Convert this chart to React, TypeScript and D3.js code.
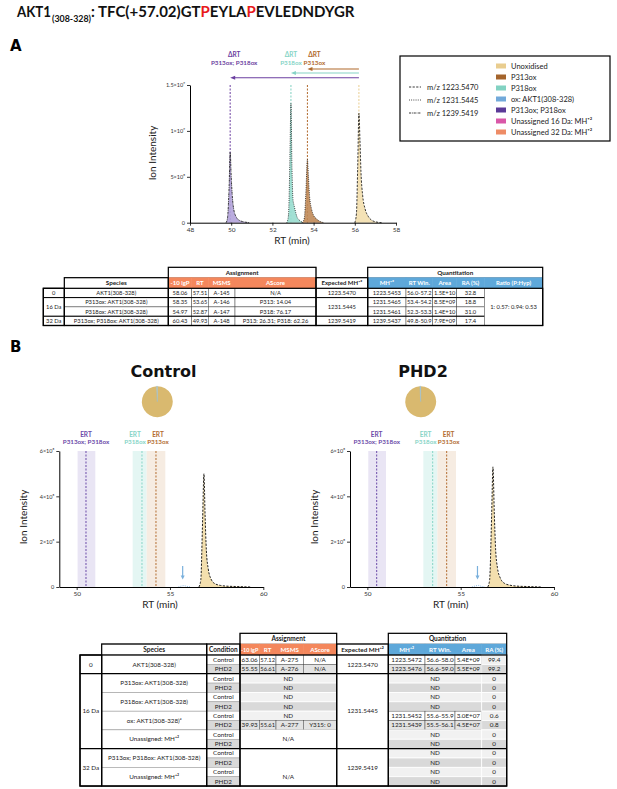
import { useEffect, useRef } from "react";
import * as d3 from "d3";

const SANS = "Lato, 'Open Sans', 'DejaVu Sans', sans-serif";
const HEAD = "'DejaVu Sans', Verdana, sans-serif";

// ---------- Panel A: legend ----------
const speciesNames = [
  "Unoxidised",
  "P313ox",
  "P318ox",
  "ox: AKT1(308-328)",
  "P313ox; P318ox",
  "Unassigned 16 Da: MH⁺²",
  "Unassigned 32 Da: MH⁺²",
];
const speciesColors = ["#e9cd8f", "#a4642c", "#82d2c2", "#72a9da", "#5b3a98", "#d957a8", "#ee8c66"];
const mzLabels = ["m/z 1223.5470", "m/z 1231.5445", "m/z 1239.5419"];
const mzDash = ["2.2,1.4", "0.9,1.3", "2.2,0.8,0.8,0.8"];

// ---------- Panel A: extracted ion chromatograms [RT (min), intensity x1e9] ----------
const peakUnoxA: [number, number][] = [
  [56.0, 0], [56.08, 0.1], [56.14, 0.6], [56.2, 1.19], [56.25, 0.9], [56.3, 0.55],
  [56.38, 0.3], [56.5, 0.15], [56.65, 0.07], [56.8, 0.03], [57.0, 0.01], [57.3, 0],
];
const peakP313A: [number, number][] = [
  [53.45, 0], [53.55, 0.05], [53.62, 0.3], [53.7, 0.69], [53.75, 0.5], [53.8, 0.3],
  [53.9, 0.15], [54.0, 0.08], [54.15, 0.04], [54.3, 0.015], [54.5, 0],
];
const peakP318A: [number, number][] = [
  [52.7, 0], [52.78, 0.08], [52.85, 0.7], [52.9, 1.3], [52.95, 0.6], [53.0, 0.25],
  [53.05, 0.19], [53.1, 0.14], [53.2, 0.06], [53.35, 0.02], [53.5, 0],
];
const peakDiA: [number, number][] = [
  [49.75, 0], [49.82, 0.05], [49.9, 0.4], [49.95, 0.77], [50.0, 0.5], [50.05, 0.3],
  [50.12, 0.15], [50.25, 0.06], [50.4, 0.025], [50.6, 0.01], [50.9, 0],
];

const xTicksA = [48, 50, 52, 54, 56, 58];
const yTicksA = [0, 0.5, 1, 1.5];
const yTickLabelsA = ["0", "5×10⁸", "1×10⁹", "1.5×10⁹"];

// ΔRT arrows, measured from the unoxidised apex
const deltaFrom = 56.2;
const deltaRT = [53.7, 52.9, 49.95];
const deltaNames = ["P313ox", "P318ox", "P313ox; P318ox"];
const deltaColors = ["#b0692b", "#86d4c6", "#6b3fa0"];

// ---------- Table A ----------
const tableAGroups = ["0", "16 Da", "32 Da"];
const tableAGroupRows = [1, 2, 1];
const tableASpecies = ["AKT1(308-328)", "P313ox: AKT1(308-328)", "P318ox: AKT1(308-328)", "P313ox; P318ox: AKT1(308-328)"];
const tableALgP = ["58.06", "58.35", "54.97", "60.43"];
const tableART = ["57.51", "53.65", "52.87", "49.93"];
const tableAMsms = ["A-145", "A-146", "A-147", "A-148"];
const tableAAscore = ["N/A", "P313: 14.04", "P318: 76.17", "P313: 26.31; P318: 62.26"];
const tableAExpected = ["1223.5470", "1231.5445", "1239.5419"];
const tableAMh = ["1223.5453", "1231.5465", "1231.5461", "1239.5437"];
const tableARtWin = ["56.0-57.2", "53.4-54.2", "52.3-53.3", "49.8-50.9"];
const tableAArea = ["1.5E+10", "8.5E+09", "1.4E+10", "7.9E+09"];
const tableARa = ["32.8", "18.8", "31.0", "17.4"];
const tableARatio = "1: 0.57: 0.94: 0.53";
const assignHeaders = ["-10 lgP", "RT", "MSMS", "AScore"];
const quantHeadersA = ["MH⁺²", "RT Win.", "Area", "RA (%)", "Ratio (P:Hyp)"];

// ---------- Panel B ----------
const conditions = ["Control", "PHD2"];
const pieUnox = [99.4, 99.2];
const pieOx = [0.6, 0.8];
const xTicksB = [50, 55, 60];
const yTicksB = [0, 2, 4, 6];
const yTickLabelsB = ["0", "2×10⁸", "4×10⁸", "6×10⁸"];
const ertNames = ["P313ox; P318ox", "P318ox", "P313ox"];
const ertCenter = [50.5, 53.5, 54.25];
const ertLow = [50.05, 53.0, 53.75];
const ertHigh = [51.0, 53.75, 54.75];
const ertColors = ["#6b4aa8", "#86d4c6", "#b26c30"];
const ertFills = ["#e9e5f4", "#e4f6f3", "#f6ece2"];
// [RT (min), intensity x1e8]
const peakUnoxControl: [number, number][] = [
  [56.55, 0], [56.65, 0.3], [56.75, 3.0], [56.82, 5.0], [56.88, 3.2], [56.95, 1.6], [57.05, 0.8],
  [57.2, 0.35], [57.4, 0.15], [57.7, 0.07], [58.0, 0.04], [58.6, 0.02], [59.3, 0],
];
const peakUnoxPHD2: [number, number][] = [
  [56.45, 0], [56.55, 0.3], [56.66, 3.2], [56.73, 5.3], [56.8, 3.3], [56.87, 1.7], [56.97, 0.85],
  [57.12, 0.4], [57.35, 0.16], [57.7, 0.07], [58.0, 0.04], [58.6, 0.02], [59.3, 0],
];
const peakOxControl: [number, number][] = [[55.45, 0], [55.6, 0.04], [55.75, 0.06], [55.9, 0.03], [56.1, 0]];
const peakOxPHD2: [number, number][] = [[55.6, 0], [55.8, 0.05], [55.95, 0.07], [56.1, 0.03], [56.3, 0]];
const arrowRT = [55.68, 55.9];

// ---------- Table B ----------
const tableBGroups = ["0", "16 Da", "32 Da"];
const tableBGroupRows = [2, 8, 4];
const tableBSpecies = [
  "AKT1(308-328)", "P313ox: AKT1(308-328)", "P318ox: AKT1(308-328)", "ox: AKT1(308-328)ᵃ",
  "Unassigned: MH⁺²", "P313ox; P318ox: AKT1(308-328)", "Unassigned: MH⁺²",
];
// merged assignment text per species (null = one row per condition)
const tableBAssignMerged: (string | null)[] = [null, null, null, null, "N/A", "", "N/A"];
const tableBAssign: (string[] | string)[] = [
  ["63.06", "57.12", "A-275", "N/A"], ["55.55", "56.61", "A-276", "N/A"],
  "ND", "ND", "ND", "ND", "ND", ["39.93", "55.61", "A-277", "Y315: 0"],
];
const tableBExpected = ["1223.5470", "1231.5445", "1239.5419"];
const tableBQuant: (string[] | string)[] = [
  ["1223.5472", "56.6-58.0", "5.4E+09"], ["1223.5476", "56.6-59.0", "5.5E+09"],
  "ND", "ND", "ND", "ND",
  ["1231.5452", "55.6-55.9", "3.0E+07"], ["1231.5439", "55.5-56.1", "4.5E+07"],
  "ND", "ND", "ND", "ND", "ND", "ND",
];
const tableBRa = ["99.4", "99.2", "0", "0", "0", "0", "0.6", "0.8", "0", "0", "0", "0", "0", "0"];
const quantHeadersB = ["MH⁺²", "RT Win.", "Area", "RA (%)"];

// peptide title pieces, red = modified prolines
const titleParts = [": TFC(+57.02)GT", "P", "EYLA", "P", "EVLEDNDYGR"];
const titleColors = ["#111", "#e8191b", "#111", "#e8191b", "#111"];

const ORANGE = "#f4875c";
const BLUE = "#5ea8da";
const LIGHT = "#f1f1f1";
const DARK = "#d9d9d9";

type G = d3.Selection<SVGGElement, unknown, null, undefined>;

function fitText(t: d3.Selection<SVGTextElement, unknown, null, undefined>, maxW: number) {
  const node = t.node();
  if (!node) return;
  const w = node.getComputedTextLength();
  if (w > maxW) t.attr("textLength", maxW).attr("lengthAdjust", "spacingAndGlyphs");
}

function cell(
  g: G, x0: number, x1: number, y0: number, y1: number, text: string,
  o: { fill?: string; color?: string; bold?: boolean; size?: number; stroke?: string; sw?: number; ty?: number } = {}
) {
  g.append("rect")
    .attr("x", x0).attr("y", y0).attr("width", x1 - x0).attr("height", y1 - y0)
    .attr("fill", o.fill ?? "#fff")
    .attr("stroke", o.stroke ?? "#444")
    .attr("stroke-width", o.sw ?? 0.5);
  if (!text) return;
  const t = g.append("text")
    .attr("x", (x0 + x1) / 2)
    .attr("y", o.ty ?? (y0 + y1) / 2)
    .attr("dy", "0.35em")
    .attr("text-anchor", "middle")
    .attr("font-family", SANS)
    .attr("font-size", o.size ?? 6)
    .attr("font-weight", o.bold ? "bold" : "normal")
    .attr("fill", o.color ?? "#222")
    .text(text);
  fitText(t, x1 - x0 - 2);
}

function box(g: G, x0: number, x1: number, y0: number, y1: number, sw = 1.2) {
  g.append("rect")
    .attr("x", x0).attr("y", y0).attr("width", x1 - x0).attr("height", y1 - y0)
    .attr("fill", "none").attr("stroke", "#000").attr("stroke-width", sw);
}

function styleAxis(ax: d3.Selection<SVGGElement, unknown, null, undefined>, size: number) {
  ax.select(".domain").attr("stroke", "#000").attr("stroke-width", 1);
  ax.selectAll(".tick line").attr("stroke", "#000").attr("stroke-width", 0.8);
  ax.selectAll(".tick text").attr("font-family", SANS).attr("font-size", size).attr("fill", "#333");
}

function drawTitle(svg: G) {
  const t1 = svg.append("text").attr("x", 17).attr("y", 17).attr("font-family", SANS)
    .attr("font-weight", "bold").attr("font-size", 15).attr("fill", "#111").text("AKT1");
  fitText(t1, 34);
  const t2 = svg.append("text").attr("x", 52).attr("y", 21.5).attr("font-family", SANS)
    .attr("font-weight", "bold").attr("font-size", 9).attr("fill", "#111").text("(308-328)");
  fitText(t2, 39);
  let xPos = 91;
  titleParts.forEach((s, i) => {
    const t = svg.append("text").attr("x", xPos).attr("y", 17).attr("font-family", SANS)
      .attr("font-weight", "bold").attr("font-size", 15).attr("fill", titleColors[i]).attr("xml:space", "preserve")
      .style("white-space", "pre").text(s);
    const n = t.node();
    xPos += n ? n.getComputedTextLength() : 0;
  });

  svg.append("text").attr("x", 10).attr("y", 51).attr("font-family", HEAD)
    .attr("font-weight", "bold").attr("font-size", 15).text("A");
  svg.append("text").attr("x", 10).attr("y", 352).attr("font-family", HEAD)
    .attr("font-weight", "bold").attr("font-size", 15).text("B");
}

function drawPanelA(svg: G) {
  const g = svg.append("g");
  const x = d3.scaleLinear().domain([48, 58]).range([190, 396]);
  const y = d3.scaleLinear().domain([0, 1.5]).range([222.7, 85]);

  const area = d3.area<[number, number]>().x((d) => x(d[0])).y0(y(0)).y1((d) => y(d[1])).curve(d3.curveMonotoneX);
  const line = d3.line<[number, number]>().x((d) => x(d[0])).y((d) => y(d[1])).curve(d3.curveMonotoneX);

  // apex markers
  const apexes = [peakUnoxA, peakP313A, peakP318A, peakDiA].map((p) => p.reduce((a, b) => (b[1] > a[1] ? b : a))[0]);
  const apexColors = ["#e9cd8f", "#b0692b", "#7fd0c0", "#6b3fa0"];
  apexes.forEach((rt, i) => {
    g.append("line").attr("x1", x(rt)).attr("x2", x(rt)).attr("y1", 85).attr("y2", y(0))
      .attr("stroke", apexColors[i]).attr("stroke-width", 1).attr("stroke-dasharray", "2,1.5");
  });

  const peaks: { d: [number, number][]; fill: string; dash: string }[] = [
    { d: peakDiA, fill: "#b3a3da", dash: mzDash[2] },
    { d: peakP318A, fill: "#99ddcf", dash: mzDash[1] },
    { d: peakP313A, fill: "#c08a58", dash: mzDash[1] },
    { d: peakUnoxA, fill: "#f3dfae", dash: mzDash[0] },
  ];
  peaks.forEach((p) => {
    g.append("path").datum(p.d).attr("d", area).attr("fill", p.fill).attr("opacity", 0.9);
    g.append("path").datum(p.d).attr("d", line).attr("fill", "none").attr("stroke", "#222")
      .attr("stroke-width", 0.9).attr("stroke-dasharray", p.dash);
  });

  // ΔRT arrows and labels
  const arrowY = [69, 73, 77.7];
  const labelDx = [7, 0, 4];
  deltaRT.forEach((rt, i) => {
    const c = deltaColors[i];
    g.append("line").attr("x1", x(deltaFrom)).attr("x2", x(rt) + 3).attr("y1", arrowY[i]).attr("y2", arrowY[i])
      .attr("stroke", c).attr("stroke-width", 1.1);
    const xe = x(rt);
    g.append("path").attr("d", `M${xe},${arrowY[i]} L${xe + 5},${arrowY[i] - 2} L${xe + 5},${arrowY[i] + 2} Z`).attr("fill", c);
    g.append("text").attr("x", xe + labelDx[i]).attr("y", 57).attr("text-anchor", "middle")
      .attr("font-family", SANS).attr("font-weight", "bold").attr("font-size", 6.5).attr("fill", c).text("ΔRT");
    g.append("text").attr("x", xe + labelDx[i]).attr("y", 65).attr("text-anchor", "middle")
      .attr("font-family", SANS).attr("font-weight", "bold").attr("font-size", 6.3).attr("fill", c).text(deltaNames[i]);
  });

  const xa = g.append("g").attr("transform", `translate(0,${y(0)})`)
    .call(d3.axisBottom(x).tickValues(xTicksA).tickFormat(d3.format("d")).tickSize(3).tickSizeOuter(0).tickPadding(1.5));
  styleAxis(xa, 6.5);
  const ya = g.append("g").attr("transform", `translate(${x(48)},0)`)
    .call(d3.axisLeft(y).tickValues(yTicksA).tickFormat((_, i) => yTickLabelsA[i]).tickSize(3).tickSizeOuter(0).tickPadding(2));
  styleAxis(ya, 5.5);

  g.append("text").attr("transform", "translate(156,153) rotate(-90)").attr("text-anchor", "middle")
    .attr("font-family", SANS).attr("font-size", 10).attr("fill", "#222").text("Ion Intensity");
  g.append("text").attr("x", 292).attr("y", 243.5).attr("text-anchor", "middle")
    .attr("font-family", SANS).attr("font-size", 10).attr("fill", "#222").text("RT (min)");

  // legend
  box(g, 400, 610, 56, 141, 1.2);
  mzLabels.forEach((m, i) => {
    const yy = 87 + i * 13;
    g.append("line").attr("x1", 409).attr("x2", 421).attr("y1", yy).attr("y2", yy)
      .attr("stroke", "#222").attr("stroke-width", 0.9).attr("stroke-dasharray", mzDash[i]);
    g.append("text").attr("x", 427).attr("y", yy).attr("dy", "0.35em").attr("font-family", SANS)
      .attr("font-size", 7.5).attr("fill", "#222").text(m);
  });
  speciesNames.forEach((s, i) => {
    const yy = 66 + i * 11;
    g.append("rect").attr("x", 496).attr("y", yy - 2.5).attr("width", 10).attr("height", 5).attr("fill", speciesColors[i]);
    g.append("text").attr("x", 511).attr("y", yy).attr("dy", "0.35em").attr("font-family", SANS)
      .attr("font-size", 7.5).attr("fill", "#222").text(s);
  });
}

function drawTableA(svg: G) {
  const g = svg.append("g");
  const cx = [43.3, 64.3, 168.3, 191.7, 208.3, 235, 316, 367.7, 406, 432.7, 456.7, 484.3, 542.7];
  const h1 = [267.3, 277.7];
  const h2 = [277.7, 288.3];
  const ry = [288.3, 297.6, 306.9, 316.2, 325.5];
  const fs = 5.8;

  cell(g, cx[2], cx[6], h1[0], h1[1], "Assignment", { bold: true, size: 6.3 });
  cell(g, cx[7], cx[12], h1[0], h1[1], "Quantitation", { bold: true, size: 6.3 });
  cell(g, cx[1], cx[2], h2[0], h2[1], "Species", { bold: true, size: 6.3 });
  assignHeaders.forEach((h, i) =>
    cell(g, cx[2 + i], cx[3 + i], h2[0], h2[1], h, { fill: ORANGE, stroke: ORANGE, color: "#fff", bold: true, size: 6 }));
  cell(g, cx[6], cx[7], h2[0], h2[1], "Expected MH⁺²", { bold: true, size: 6 });
  quantHeadersA.forEach((h, i) =>
    cell(g, cx[7 + i], cx[8 + i], h2[0], h2[1], h, { fill: BLUE, stroke: BLUE, color: "#fff", bold: true, size: 6 }));

  let r = 0;
  tableAGroups.forEach((grp, gi) => {
    const n = tableAGroupRows[gi];
    cell(g, cx[0], cx[1], ry[r], ry[r + n], grp, { size: fs });
    cell(g, cx[6], cx[7], ry[r], ry[r + n], tableAExpected[gi], { size: fs });
    r += n;
  });
  tableASpecies.forEach((s, i) => {
    const y0 = ry[i], y1 = ry[i + 1];
    cell(g, cx[1], cx[2], y0, y1, s, { size: fs });
    [tableALgP[i], tableART[i], tableAMsms[i], tableAAscore[i]].forEach((v, j) => cell(g, cx[2 + j], cx[3 + j], y0, y1, v, { size: fs }));
    [tableAMh[i], tableARtWin[i], tableAArea[i], tableARa[i]].forEach((v, j) => cell(g, cx[7 + j], cx[8 + j], y0, y1, v, { size: fs }));
  });
  cell(g, cx[11], cx[12], ry[0], ry[4], tableARatio, { size: fs });

  box(g, cx[0], cx[1], ry[0], ry[4]);
  box(g, cx[1], cx[2], h2[0], ry[4]);
  box(g, cx[2], cx[6], h1[0], ry[4]);
  box(g, cx[6], cx[7], h2[0], ry[4]);
  box(g, cx[7], cx[12], h1[0], ry[4]);
  box(g, cx[0], cx[12], ry[0], ry[4]);
  [ry[1], ry[3]].forEach((yy) =>
    g.append("line").attr("x1", cx[0]).attr("x2", cx[11]).attr("y1", yy).attr("y2", yy).attr("stroke", "#000").attr("stroke-width", 1));
}

function drawPanelB(svg: G) {
  const peaksUnox = [peakUnoxControl, peakUnoxPHD2];
  const peaksOx = [peakOxControl, peakOxPHD2];
  const titleX = [163.5, 423];
  const pieX = [157.3, 420.7];
  const offsets = [0, 290.7];

  conditions.forEach((cond, k) => {
    const g = svg.append("g");
    const dx = offsets[k];
    const x = d3.scaleLinear().domain([49.07, 60]).range([59.3 + dx, 263.3 + dx]);
    const y = d3.scaleLinear().domain([0, 6]).range([587, 451]);

    g.append("text").attr("x", titleX[k]).attr("y", 377).attr("text-anchor", "middle")
      .attr("font-family", HEAD).attr("font-weight", "bold").attr("font-size", 16).attr("fill", "#111").text(cond);

    // relative abundance pie
    const pie = d3.pie<number>().sort(null)([pieUnox[k], pieOx[k]]);
    const arc = d3.arc<d3.PieArcDatum<number>>().innerRadius(0).outerRadius(15.5);
    const pg = g.append("g").attr("transform", `translate(${pieX[k]},401.7)`);
    pg.selectAll("path").data(pie).join("path").attr("d", arc)
      .attr("fill", (_, i) => (i === 0 ? "#d9b96f" : "#8fb7c8"))
      .attr("stroke", (_, i) => (i === 0 ? "none" : "#9cbfcf"))
      .attr("stroke-width", 0.5);

    // expected RT windows
    const labelDx = [0, -7, 2];
    ertCenter.forEach((c, i) => {
      g.append("rect").attr("x", x(ertLow[i])).attr("y", 451).attr("width", x(ertHigh[i]) - x(ertLow[i]))
        .attr("height", 587 - 451).attr("fill", ertFills[i]);
    });
    ertCenter.forEach((c, i) => {
      g.append("line").attr("x1", x(c)).attr("x2", x(c)).attr("y1", 451).attr("y2", 587)
        .attr("stroke", ertColors[i]).attr("stroke-width", 1).attr("stroke-dasharray", "2,1.5");
      g.append("text").attr("x", x(c) + labelDx[i]).attr("y", 436.5).attr("text-anchor", "middle")
        .attr("font-family", SANS).attr("font-weight", "bold").attr("font-size", 6.5).attr("fill", ertColors[i]).text("ERT");
      g.append("text").attr("x", x(c) + labelDx[i]).attr("y", 444.3).attr("text-anchor", "middle")
        .attr("font-family", SANS).attr("font-weight", "bold").attr("font-size", 6.3).attr("fill", ertColors[i]).text(ertNames[i]);
    });

    const area = d3.area<[number, number]>().x((d) => x(d[0])).y0(y(0)).y1((d) => y(d[1])).curve(d3.curveMonotoneX);
    const line = d3.line<[number, number]>().x((d) => x(d[0])).y((d) => y(d[1])).curve(d3.curveMonotoneX);

    g.append("path").datum(peaksOx[k]).attr("d", line).attr("fill", "none").attr("stroke", "#72a9da")
      .attr("stroke-width", 0.9).attr("stroke-dasharray", mzDash[1]);
    g.append("path").datum(peaksUnox[k]).attr("d", area).attr("fill", "#f3dfae");
    g.append("path").datum(peaksUnox[k]).attr("d", line).attr("fill", "none").attr("stroke", "#222")
      .attr("stroke-width", 1).attr("stroke-dasharray", mzDash[0]);

    // arrow to the minor oxidised species
    const ax = x(arrowRT[k]);
    g.append("line").attr("x1", ax).attr("x2", ax).attr("y1", 566).attr("y2", 576).attr("stroke", "#7ab0dc").attr("stroke-width", 1.2);
    g.append("path").attr("d", `M${ax},579.5 L${ax - 2},575.5 L${ax + 2},575.5 Z`).attr("fill", "#7ab0dc");

    const xa = g.append("g").attr("transform", `translate(0,587)`)
      .call(d3.axisBottom(x).tickValues(xTicksB).tickFormat(d3.format("d")).tickSize(3).tickSizeOuter(0).tickPadding(1.5));
    styleAxis(xa, 6.5);
    const ya = g.append("g").attr("transform", `translate(${59.3 + dx},0)`)
      .call(d3.axisLeft(y).tickValues(yTicksB).tickFormat((_, i) => yTickLabelsB[i]).tickSize(3).tickSizeOuter(0).tickPadding(2));
    styleAxis(ya, 5.5);

    g.append("text").attr("transform", `translate(${27 + dx},517) rotate(-90)`).attr("text-anchor", "middle")
      .attr("font-family", SANS).attr("font-size", 10).attr("fill", "#222").text("Ion Intensity");
    g.append("text").attr("x", 160 + dx).attr("y", 608).attr("text-anchor", "middle")
      .attr("font-family", SANS).attr("font-size", 10).attr("fill", "#222").text("RT (min)");
  });
}

function drawTableB(svg: G) {
  const g = svg.append("g");
  const cx = [80, 101.7, 206.7, 240, 259.3, 276, 303.3, 336.7, 388.3, 425, 455, 481.7, 506.7];
  const h1 = [633.3, 644];
  const h2 = [644, 655];
  const rh = 9.36;
  const ry = d3.range(15).map((i) => 655 + i * rh);
  const fs = 6.3;

  cell(g, cx[3], cx[7], h1[0], h1[1], "Assignment", { bold: true, size: 6.5 });
  cell(g, cx[8], cx[12], h1[0], h1[1], "Quantitation", { bold: true, size: 6.5 });
  cell(g, cx[1], cx[2], h2[0], h2[1], "Species", { bold: true, size: 6.5 });
  cell(g, cx[2], cx[3], h2[0], h2[1], "Condition", { bold: true, size: 6.5 });
  assignHeaders.forEach((h, i) =>
    cell(g, cx[3 + i], cx[4 + i], h2[0], h2[1], h, { fill: ORANGE, stroke: ORANGE, color: "#fff", bold: true, size: 6.2 }));
  cell(g, cx[7], cx[8], h2[0], h2[1], "Expected MH⁺²", { bold: true, size: 6.3 });
  quantHeadersB.forEach((h, i) =>
    cell(g, cx[8 + i], cx[9 + i], h2[0], h2[1], h, { fill: BLUE, stroke: BLUE, color: "#fff", bold: true, size: 6.2 }));

  // groups and expected masses
  let r = 0;
  const groupEdges: number[] = [];
  tableBGroups.forEach((grp, gi) => {
    const n = tableBGroupRows[gi];
    cell(g, cx[0], cx[1], ry[r], ry[r + n], grp, { size: fs });
    cell(g, cx[7], cx[8], ry[r], ry[r + n], tableBExpected[gi], { size: fs });
    r += n;
    groupEdges.push(ry[r]);
  });

  // species, condition, assignment
  let assignRow = 0;
  tableBSpecies.forEach((s, si) => {
    const y0 = ry[si * 2], y1 = ry[si * 2 + 2];
    cell(g, cx[1], cx[2], y0, y1, s, { size: fs, stroke: "#888" });
    conditions.forEach((c, ci) => {
      const a = ry[si * 2 + ci], b = ry[si * 2 + ci + 1];
      cell(g, cx[2], cx[3], a, b, c, { size: fs, fill: ci === 0 ? "#fff" : DARK, stroke: "#999" });
    });
    const merged = tableBAssignMerged[si];
    if (merged !== null) {
      cell(g, cx[3], cx[7], y0, y1, merged, { size: fs, stroke: "#fff" });
    } else {
      conditions.forEach((_, ci) => {
        const a = ry[si * 2 + ci], b = ry[si * 2 + ci + 1];
        const v = tableBAssign[assignRow++];
        const fill = ci === 0 ? (typeof v === "string" ? LIGHT : "#fff") : DARK;
        if (typeof v === "string") cell(g, cx[3], cx[7], a, b, v, { size: fs, fill, stroke: "#fff", sw: 0.8 });
        else v.forEach((t, j) => cell(g, cx[3 + j], cx[4 + j], a, b, t, { size: fs, fill: ci === 0 ? "#fff" : "#e3e3e3" }));
      });
    }
  });

  // quantitation
  tableBQuant.forEach((v, i) => {
    const a = ry[i], b = ry[i + 1];
    const odd = i % 2 === 1;
    if (typeof v === "string") cell(g, cx[8], cx[11], a, b, v, { size: fs, fill: odd ? DARK : LIGHT, stroke: "#fff", sw: 0.8 });
    else v.forEach((t, j) => cell(g, cx[8 + j], cx[9 + j], a, b, t, { size: fs, fill: odd ? "#e3e3e3" : "#fff" }));
    cell(g, cx[11], cx[12], a, b, tableBRa[i], { size: fs, fill: odd ? DARK : LIGHT, stroke: "#fff", sw: 0.8 });
  });

  const end = ry[14];
  box(g, cx[0], cx[1], ry[0], end);
  box(g, cx[1], cx[2], h2[0], end);
  box(g, cx[2], cx[3], h2[0], end);
  box(g, cx[3], cx[7], h1[0], end);
  box(g, cx[7], cx[8], h2[0], end);
  box(g, cx[8], cx[12], h1[0], end);
  box(g, cx[0], cx[12], ry[0], end);
  groupEdges.slice(0, 2).forEach((yy) =>
    g.append("line").attr("x1", cx[0]).attr("x2", cx[12]).attr("y1", yy).attr("y2", yy).attr("stroke", "#000").attr("stroke-width", 1.2));
}

export default function App() {
  const svgRef = useRef<SVGSVGElement>(null);

  useEffect(() => {
    if (!svgRef.current) return;
    const root = d3.select(svgRef.current);
    root.selectAll("*").remove();
    const svg = root.append("g") as unknown as G;
    drawTitle(svg);
    drawPanelA(svg);
    drawTableA(svg);
    drawPanelB(svg);
    drawTableB(svg);
  }, []);

  return (
    <svg
      ref={svgRef}
      width={617}
      height={789}
      style={{ position: "absolute", left: 0, top: 0, background: "#fff" }}
    />
  );
}
